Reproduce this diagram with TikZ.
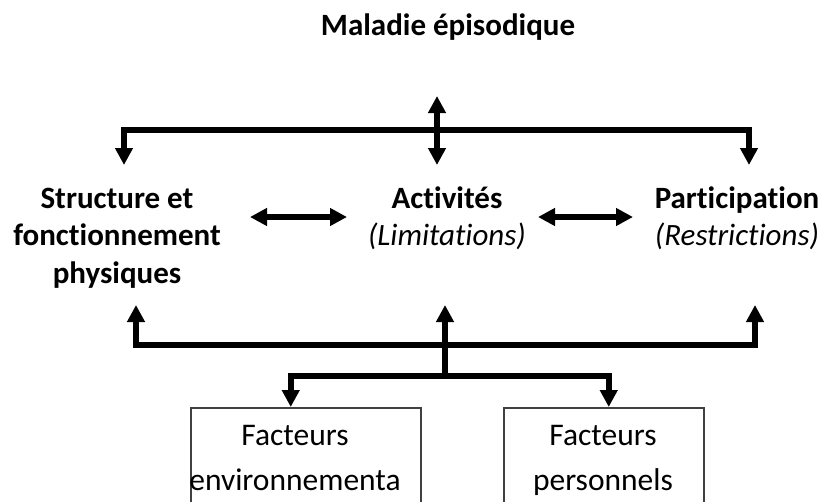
\documentclass[tikz,border=0pt]{standalone}
\usepackage{fontspec}
\setmainfont[Ligatures=NoCommon]{Carlito}
\usepackage{tikz}
\usetikzlibrary{arrows.meta}
\usetikzlibrary{positioning}

\begin{document}
\begin{tikzpicture}[x=1pt, y=-1pt,
		>={Triangle[width=17pt, length=17pt]},
		bar/.style={line width=6pt},
		heading/.style={inner sep=0pt, align=center, font=\fontsize{31}{37.5}\selectfont\bfseries},
		factbox/.style={draw=black!75, line width=1.5pt, minimum width=#1, minimum height=170pt, anchor=north west, inner sep=0pt},
		facttext/.style={inner sep=0pt, align=center, font=\fontsize{31.5}{45}\selectfont}]
			\clip (0,0) rectangle (825,501);
			% base = derniere ligne
			\node[heading, anchor=base] (maladie) at (448,35) {Maladie épisodique};
			\node[heading, anchor=base] (structure) at (117,283) {Structure et\\fonctionnement\\physiques};
			\node[heading, anchor=base] (activites) at (447,245.5) {Activités\\{\mdseries\itshape (Limitations)}};
			\node[heading, anchor=base] (participation) at (737,245.5) {Participation\\{\mdseries\itshape (Restrictions)}};
			\node[factbox=230pt] (envbox) at (190,407) {};
			\node[factbox=200pt] (persbox) at (503,407) {};
			\node[facttext, anchor=base] (envtext) at (295,490) {Facteurs\\environnementa};
			\node[facttext, anchor=base] (perstext) at (603,490) {Facteurs\\personnels};
			% en haut
			\coordinate (topmid) at (437,130);
			\coordinate (toptip) at (437,96);
			\coordinate (structtop) at (124,165);
			\coordinate (activtop) at (437,165);
			\coordinate (parttop) at (749,165);
			\draw[bar, <->] (structtop) |- (topmid) -| (parttop);
			\draw[bar, <->] (toptip) -- (activtop);
			% au milieu
			\coordinate (leftA) at (250,217);
			\coordinate (leftB) at (347,217);
			\coordinate (rightA) at (538,217);
			\coordinate (rightB) at (633,217);
			\draw[bar, <->] (leftA) -- (leftB);
			\draw[bar, <->] (rightA) -- (rightB);
			% en bas
			\coordinate (botmid) at (445,345);
			\coordinate (lowmid) at (445,376);
			\coordinate (structbot) at (136,305);
			\coordinate (activbot) at (445,305);
			\coordinate (partbot) at (755,305);
			\draw[bar, <->] (structbot) |- (botmid) -| (partbot);
			\draw[bar, ->] (lowmid) -- (activbot);
			\draw[bar, <->] ([xshift=-15pt]envbox.north) |- (lowmid) -| ([xshift=5pt]persbox.north);
		\end{tikzpicture}
\end{document}
